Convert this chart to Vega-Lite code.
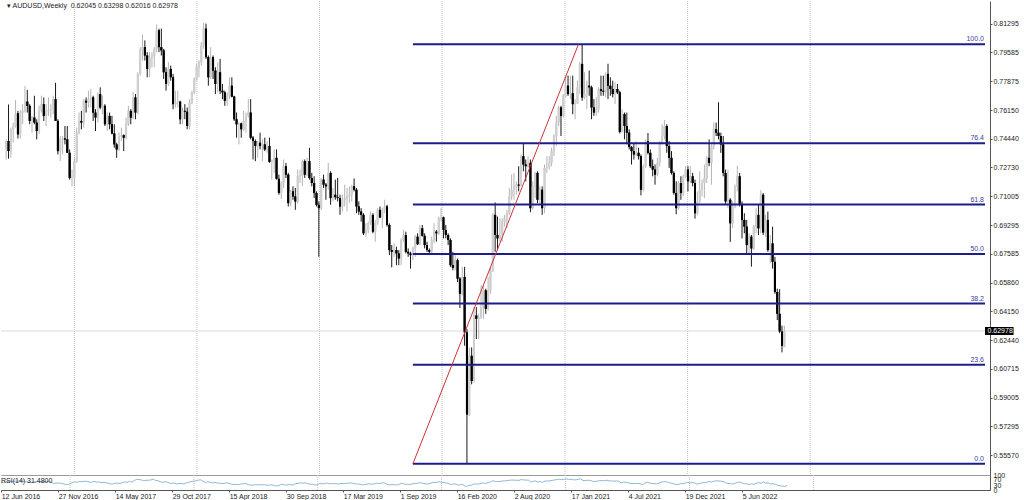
{
"$schema": "https://vega.github.io/schema/vega-lite/v6.json",
"padding": 0,
"background": "white",
"spacing": 0,
"bounds": "flush",
"config": {"view": {"stroke": null}, "font": "Liberation Sans", "axis": {"labelFont": "Liberation Sans", "labelFontSize": 7, "labelColor": "#222222", "labelOverlap": false}},
"datasets": {
"grid": [{"g":"2017-01-01"},{"g":"2018-01-01"},{"g":"2019-01-01"},{"g":"2020-01-01"},{"g":"2021-01-01"},{"g":"2022-01-01"},{"g":"2023-01-01"}],
"fib": [{"level":"0.0","price":0.5506},{"level":"23.6","price":0.60962},{"level":"38.2","price":0.64614},{"level":"50.0","price":0.67565},{"level":"61.8","price":0.70516},{"level":"76.4","price":0.74168},{"level":"100.0","price":0.8007}],
"trend": [{"date":"2019-10-06","price":0.5506},{"date":"2021-02-10","price":0.8007}],
"last": [{"label":"0.62978","price":0.62978}],
"header": [{"text":"\u25be AUDUSD,Weekly\u00a0 0.62045 0.63298 0.62016 0.62978"}],
"rsihead": [{"text":"RSI(14) 31.4800"}],
"bars": [
{"d":"2016-06-12","o":0.7390,"h":0.7440,"l":0.7320,"c":0.7430,"r":48},
{"d":"2016-06-19","o":0.7430,"h":0.7648,"l":0.7325,"c":0.7370,"r":50},
{"d":"2016-06-26","o":0.7370,"h":0.7510,"l":0.7330,"c":0.7500,"r":55},
{"d":"2016-07-03","o":0.7500,"h":0.7540,"l":0.7420,"c":0.7520,"r":56},
{"d":"2016-07-10","o":0.7520,"h":0.7675,"l":0.7510,"c":0.7595,"r":60},
{"d":"2016-07-17","o":0.7595,"h":0.7610,"l":0.7445,"c":0.7470,"r":55},
{"d":"2016-07-24","o":0.7470,"h":0.7615,"l":0.7445,"c":0.7600,"r":58},
{"d":"2016-07-31","o":0.7600,"h":0.7650,"l":0.7530,"c":0.7610,"r":59},
{"d":"2016-08-07","o":0.7610,"h":0.7758,"l":0.7600,"c":0.7665,"r":62},
{"d":"2016-08-14","o":0.7665,"h":0.7735,"l":0.7600,"c":0.7640,"r":60},
{"d":"2016-08-21","o":0.7640,"h":0.7650,"l":0.7530,"c":0.7550,"r":55},
{"d":"2016-08-28","o":0.7550,"h":0.7580,"l":0.7480,"c":0.7570,"r":54},
{"d":"2016-09-04","o":0.7570,"h":0.7700,"l":0.7530,"c":0.7540,"r":53},
{"d":"2016-09-11","o":0.7540,"h":0.7560,"l":0.7440,"c":0.7490,"r":50},
{"d":"2016-09-18","o":0.7490,"h":0.7640,"l":0.7470,"c":0.7610,"r":55},
{"d":"2016-09-25","o":0.7610,"h":0.7700,"l":0.7600,"c":0.7650,"r":57},
{"d":"2016-10-02","o":0.7650,"h":0.7690,"l":0.7550,"c":0.7580,"r":54},
{"d":"2016-10-09","o":0.7580,"h":0.7650,"l":0.7520,"c":0.7610,"r":56},
{"d":"2016-10-16","o":0.7610,"h":0.7690,"l":0.7580,"c":0.7615,"r":56},
{"d":"2016-10-23","o":0.7615,"h":0.7650,"l":0.7570,"c":0.7620,"r":56},
{"d":"2016-10-30","o":0.7620,"h":0.7700,"l":0.7590,"c":0.7680,"r":58},
{"d":"2016-11-06","o":0.7680,"h":0.7777,"l":0.7550,"c":0.7550,"r":52},
{"d":"2016-11-13","o":0.7550,"h":0.7560,"l":0.7350,"c":0.7370,"r":44},
{"d":"2016-11-20","o":0.7370,"h":0.7460,"l":0.7310,"c":0.7440,"r":46},
{"d":"2016-11-27","o":0.7440,"h":0.7460,"l":0.7350,"c":0.7445,"r":46},
{"d":"2016-12-04","o":0.7445,"h":0.7520,"l":0.7410,"c":0.7440,"r":46},
{"d":"2016-12-11","o":0.7440,"h":0.7520,"l":0.7360,"c":0.7360,"r":42},
{"d":"2016-12-18","o":0.7360,"h":0.7380,"l":0.7200,"c":0.7210,"r":37},
{"d":"2016-12-25","o":0.7210,"h":0.7260,"l":0.7160,"c":0.7215,"r":37},
{"d":"2017-01-01","o":0.7215,"h":0.7330,"l":0.7160,"c":0.7310,"r":42},
{"d":"2017-01-08","o":0.7310,"h":0.7510,"l":0.7300,"c":0.7480,"r":50},
{"d":"2017-01-15","o":0.7480,"h":0.7600,"l":0.7470,"c":0.7550,"r":54},
{"d":"2017-01-22","o":0.7550,"h":0.7610,"l":0.7500,"c":0.7540,"r":52},
{"d":"2017-01-29","o":0.7540,"h":0.7680,"l":0.7510,"c":0.7670,"r":57},
{"d":"2017-02-05","o":0.7670,"h":0.7690,"l":0.7600,"c":0.7660,"r":56},
{"d":"2017-02-12","o":0.7660,"h":0.7730,"l":0.7630,"c":0.7680,"r":58},
{"d":"2017-02-19","o":0.7680,"h":0.7740,"l":0.7630,"c":0.7690,"r":58},
{"d":"2017-02-26","o":0.7690,"h":0.7700,"l":0.7550,"c":0.7600,"r":53},
{"d":"2017-03-05","o":0.7600,"h":0.7620,"l":0.7490,"c":0.7570,"r":51},
{"d":"2017-03-12","o":0.7570,"h":0.7720,"l":0.7540,"c":0.7710,"r":58},
{"d":"2017-03-19","o":0.7710,"h":0.7750,"l":0.7620,"c":0.7630,"r":53},
{"d":"2017-03-26","o":0.7630,"h":0.7700,"l":0.7590,"c":0.7640,"r":54},
{"d":"2017-04-02","o":0.7640,"h":0.7650,"l":0.7520,"c":0.7530,"r":49},
{"d":"2017-04-09","o":0.7530,"h":0.7600,"l":0.7490,"c":0.7580,"r":51},
{"d":"2017-04-16","o":0.7580,"h":0.7600,"l":0.7500,"c":0.7530,"r":49},
{"d":"2017-04-23","o":0.7530,"h":0.7580,"l":0.7470,"c":0.7475,"r":45},
{"d":"2017-04-30","o":0.7475,"h":0.7530,"l":0.7390,"c":0.7410,"r":41},
{"d":"2017-05-07","o":0.7410,"h":0.7420,"l":0.7330,"c":0.7380,"r":40},
{"d":"2017-05-14","o":0.7380,"h":0.7480,"l":0.7370,"c":0.7460,"r":45},
{"d":"2017-05-21","o":0.7460,"h":0.7510,"l":0.7430,"c":0.7465,"r":45},
{"d":"2017-05-28","o":0.7465,"h":0.7470,"l":0.7370,"c":0.7450,"r":44},
{"d":"2017-06-04","o":0.7450,"h":0.7570,"l":0.7440,"c":0.7530,"r":49},
{"d":"2017-06-11","o":0.7530,"h":0.7640,"l":0.7520,"c":0.7610,"r":54},
{"d":"2017-06-18","o":0.7610,"h":0.7620,"l":0.7530,"c":0.7570,"r":51},
{"d":"2017-06-25","o":0.7570,"h":0.7720,"l":0.7560,"c":0.7690,"r":58},
{"d":"2017-07-02","o":0.7690,"h":0.7710,"l":0.7560,"c":0.7600,"r":52},
{"d":"2017-07-09","o":0.7600,"h":0.7840,"l":0.7590,"c":0.7830,"r":63},
{"d":"2017-07-16","o":0.7830,"h":0.7990,"l":0.7820,"c":0.7970,"r":70},
{"d":"2017-07-23","o":0.7970,"h":0.8065,"l":0.7910,"c":0.7990,"r":70},
{"d":"2017-07-30","o":0.7990,"h":0.8030,"l":0.7910,"c":0.7940,"r":67},
{"d":"2017-08-06","o":0.7940,"h":0.7960,"l":0.7810,"c":0.7860,"r":61},
{"d":"2017-08-13","o":0.7860,"h":0.7960,"l":0.7810,"c":0.7930,"r":65},
{"d":"2017-08-20","o":0.7930,"h":0.7960,"l":0.7870,"c":0.7940,"r":65},
{"d":"2017-08-27","o":0.7940,"h":0.7990,"l":0.7870,"c":0.7980,"r":67},
{"d":"2017-09-03","o":0.7980,"h":0.8125,"l":0.7960,"c":0.8090,"r":72},
{"d":"2017-09-10","o":0.8090,"h":0.8100,"l":0.7960,"c":0.7990,"r":64},
{"d":"2017-09-17","o":0.7990,"h":0.8100,"l":0.7940,"c":0.7970,"r":62},
{"d":"2017-09-24","o":0.7970,"h":0.7980,"l":0.7800,"c":0.7840,"r":55},
{"d":"2017-10-01","o":0.7840,"h":0.7870,"l":0.7730,"c":0.7770,"r":51},
{"d":"2017-10-08","o":0.7770,"h":0.7900,"l":0.7760,"c":0.7860,"r":56},
{"d":"2017-10-15","o":0.7860,"h":0.7880,"l":0.7790,"c":0.7810,"r":52},
{"d":"2017-10-22","o":0.7810,"h":0.7830,"l":0.7620,"c":0.7650,"r":44},
{"d":"2017-10-29","o":0.7650,"h":0.7730,"l":0.7630,"c":0.7660,"r":45},
{"d":"2017-11-05","o":0.7660,"h":0.7730,"l":0.7630,"c":0.7665,"r":45},
{"d":"2017-11-12","o":0.7665,"h":0.7670,"l":0.7530,"c":0.7560,"r":40},
{"d":"2017-11-19","o":0.7560,"h":0.7630,"l":0.7530,"c":0.7610,"r":44},
{"d":"2017-11-26","o":0.7610,"h":0.7650,"l":0.7560,"c":0.7605,"r":44},
{"d":"2017-12-03","o":0.7605,"h":0.7630,"l":0.7500,"c":0.7520,"r":40},
{"d":"2017-12-10","o":0.7520,"h":0.7680,"l":0.7500,"c":0.7660,"r":48},
{"d":"2017-12-17","o":0.7660,"h":0.7730,"l":0.7650,"c":0.7720,"r":52},
{"d":"2017-12-24","o":0.7720,"h":0.7810,"l":0.7710,"c":0.7800,"r":56},
{"d":"2017-12-31","o":0.7800,"h":0.7890,"l":0.7790,"c":0.7870,"r":59},
{"d":"2018-01-07","o":0.7870,"h":0.7910,"l":0.7810,"c":0.7900,"r":61},
{"d":"2018-01-14","o":0.7900,"h":0.8020,"l":0.7880,"c":0.8000,"r":66},
{"d":"2018-01-21","o":0.8000,"h":0.8136,"l":0.7980,"c":0.8100,"r":68},
{"d":"2018-01-28","o":0.8100,"h":0.8130,"l":0.7920,"c":0.7930,"r":58},
{"d":"2018-02-04","o":0.7930,"h":0.7940,"l":0.7760,"c":0.7810,"r":49},
{"d":"2018-02-11","o":0.7810,"h":0.7990,"l":0.7800,"c":0.7930,"r":55},
{"d":"2018-02-18","o":0.7930,"h":0.7940,"l":0.7800,"c":0.7850,"r":51},
{"d":"2018-02-25","o":0.7850,"h":0.7870,"l":0.7710,"c":0.7770,"r":47},
{"d":"2018-03-04","o":0.7770,"h":0.7900,"l":0.7720,"c":0.7840,"r":52},
{"d":"2018-03-11","o":0.7840,"h":0.7920,"l":0.7710,"c":0.7730,"r":46},
{"d":"2018-03-18","o":0.7730,"h":0.7770,"l":0.7680,"c":0.7720,"r":45},
{"d":"2018-03-25","o":0.7720,"h":0.7730,"l":0.7640,"c":0.7670,"r":42},
{"d":"2018-04-01","o":0.7670,"h":0.7720,"l":0.7640,"c":0.7700,"r":45},
{"d":"2018-04-08","o":0.7700,"h":0.7810,"l":0.7680,"c":0.7760,"r":48},
{"d":"2018-04-15","o":0.7760,"h":0.7810,"l":0.7690,"c":0.7695,"r":44},
{"d":"2018-04-22","o":0.7695,"h":0.7700,"l":0.7550,"c":0.7560,"r":38},
{"d":"2018-04-29","o":0.7560,"h":0.7600,"l":0.7450,"c":0.7530,"r":37},
{"d":"2018-05-06","o":0.7530,"h":0.7540,"l":0.7410,"c":0.7535,"r":37},
{"d":"2018-05-13","o":0.7535,"h":0.7540,"l":0.7450,"c":0.7500,"r":36},
{"d":"2018-05-20","o":0.7500,"h":0.7610,"l":0.7490,"c":0.7550,"r":40},
{"d":"2018-05-27","o":0.7550,"h":0.7600,"l":0.7480,"c":0.7580,"r":42},
{"d":"2018-06-03","o":0.7580,"h":0.7680,"l":0.7570,"c":0.7600,"r":43},
{"d":"2018-06-10","o":0.7600,"h":0.7680,"l":0.7440,"c":0.7450,"r":36},
{"d":"2018-06-17","o":0.7450,"h":0.7460,"l":0.7320,"c":0.7430,"r":33},
{"d":"2018-06-24","o":0.7430,"h":0.7440,"l":0.7310,"c":0.7400,"r":33},
{"d":"2018-07-01","o":0.7400,"h":0.7430,"l":0.7330,"c":0.7420,"r":35},
{"d":"2018-07-08","o":0.7420,"h":0.7480,"l":0.7380,"c":0.7400,"r":35},
{"d":"2018-07-15","o":0.7400,"h":0.7440,"l":0.7310,"c":0.7410,"r":35},
{"d":"2018-07-22","o":0.7410,"h":0.7450,"l":0.7370,"c":0.7380,"r":34},
{"d":"2018-07-29","o":0.7380,"h":0.7430,"l":0.7360,"c":0.7400,"r":36},
{"d":"2018-08-05","o":0.7400,"h":0.7450,"l":0.7300,"c":0.7305,"r":31},
{"d":"2018-08-12","o":0.7305,"h":0.7320,"l":0.7200,"c":0.7310,"r":33},
{"d":"2018-08-19","o":0.7310,"h":0.7380,"l":0.7240,"c":0.7330,"r":34},
{"d":"2018-08-26","o":0.7330,"h":0.7380,"l":0.7200,"c":0.7205,"r":30},
{"d":"2018-09-02","o":0.7205,"h":0.7230,"l":0.7110,"c":0.7120,"r":27},
{"d":"2018-09-09","o":0.7120,"h":0.7190,"l":0.7085,"c":0.7180,"r":30},
{"d":"2018-09-16","o":0.7180,"h":0.7320,"l":0.7150,"c":0.7280,"r":38},
{"d":"2018-09-23","o":0.7280,"h":0.7300,"l":0.7210,"c":0.7230,"r":37},
{"d":"2018-09-30","o":0.7230,"h":0.7240,"l":0.7040,"c":0.7060,"r":32},
{"d":"2018-10-07","o":0.7060,"h":0.7140,"l":0.7040,"c":0.7130,"r":36},
{"d":"2018-10-14","o":0.7130,"h":0.7160,"l":0.7080,"c":0.7100,"r":35},
{"d":"2018-10-21","o":0.7100,"h":0.7150,"l":0.7020,"c":0.7070,"r":34},
{"d":"2018-10-28","o":0.7070,"h":0.7260,"l":0.7060,"c":0.7220,"r":43},
{"d":"2018-11-04","o":0.7220,"h":0.7260,"l":0.7180,"c":0.7225,"r":44},
{"d":"2018-11-11","o":0.7225,"h":0.7320,"l":0.7160,"c":0.7310,"r":48},
{"d":"2018-11-18","o":0.7310,"h":0.7320,"l":0.7210,"c":0.7230,"r":45},
{"d":"2018-11-25","o":0.7230,"h":0.7330,"l":0.7220,"c":0.7310,"r":48},
{"d":"2018-12-02","o":0.7310,"h":0.7390,"l":0.7200,"c":0.7210,"r":42},
{"d":"2018-12-09","o":0.7210,"h":0.7240,"l":0.7160,"c":0.7180,"r":40},
{"d":"2018-12-16","o":0.7180,"h":0.7220,"l":0.7090,"c":0.7120,"r":37},
{"d":"2018-12-23","o":0.7120,"h":0.7130,"l":0.7040,"c":0.7050,"r":34},
{"d":"2018-12-30","o":0.7050,"h":0.7070,"l":0.6740,"c":0.7030,"r":33},
{"d":"2019-01-06","o":0.7030,"h":0.7210,"l":0.7020,"c":0.7200,"r":43},
{"d":"2019-01-13","o":0.7200,"h":0.7230,"l":0.7150,"c":0.7170,"r":42},
{"d":"2019-01-20","o":0.7170,"h":0.7180,"l":0.7080,"c":0.7160,"r":41},
{"d":"2019-01-27","o":0.7160,"h":0.7300,"l":0.7140,"c":0.7240,"r":47},
{"d":"2019-02-03","o":0.7240,"h":0.7250,"l":0.7050,"c":0.7090,"r":41},
{"d":"2019-02-10","o":0.7090,"h":0.7150,"l":0.7070,"c":0.7110,"r":43},
{"d":"2019-02-17","o":0.7110,"h":0.7200,"l":0.7080,"c":0.7095,"r":42},
{"d":"2019-02-24","o":0.7095,"h":0.7210,"l":0.7070,"c":0.7090,"r":42},
{"d":"2019-03-03","o":0.7090,"h":0.7110,"l":0.6990,"c":0.7040,"r":40},
{"d":"2019-03-10","o":0.7040,"h":0.7110,"l":0.7010,"c":0.7080,"r":43},
{"d":"2019-03-17","o":0.7080,"h":0.7170,"l":0.7040,"c":0.7090,"r":43},
{"d":"2019-03-24","o":0.7090,"h":0.7150,"l":0.7010,"c":0.7100,"r":44},
{"d":"2019-03-31","o":0.7100,"h":0.7160,"l":0.7060,"c":0.7110,"r":45},
{"d":"2019-04-07","o":0.7110,"h":0.7170,"l":0.7070,"c":0.7160,"r":47},
{"d":"2019-04-14","o":0.7160,"h":0.7207,"l":0.7130,"c":0.7140,"r":46},
{"d":"2019-04-21","o":0.7140,"h":0.7150,"l":0.7000,"c":0.7040,"r":41},
{"d":"2019-04-28","o":0.7040,"h":0.7070,"l":0.6990,"c":0.7010,"r":40},
{"d":"2019-05-05","o":0.7010,"h":0.7030,"l":0.6950,"c":0.6990,"r":39},
{"d":"2019-05-12","o":0.6990,"h":0.7000,"l":0.6870,"c":0.6880,"r":34},
{"d":"2019-05-19","o":0.6880,"h":0.6940,"l":0.6860,"c":0.6900,"r":36},
{"d":"2019-05-26","o":0.6900,"h":0.6950,"l":0.6880,"c":0.6940,"r":39},
{"d":"2019-06-02","o":0.6940,"h":0.7010,"l":0.6930,"c":0.6990,"r":42},
{"d":"2019-06-09","o":0.6990,"h":0.7000,"l":0.6880,"c":0.6890,"r":38},
{"d":"2019-06-16","o":0.6890,"h":0.6960,"l":0.6830,"c":0.6940,"r":41},
{"d":"2019-06-23","o":0.6940,"h":0.7030,"l":0.6930,"c":0.7020,"r":46},
{"d":"2019-06-30","o":0.7020,"h":0.7040,"l":0.6970,"c":0.6975,"r":43},
{"d":"2019-07-07","o":0.6975,"h":0.7030,"l":0.6910,"c":0.7020,"r":46},
{"d":"2019-07-14","o":0.7020,"h":0.7080,"l":0.7000,"c":0.7040,"r":48},
{"d":"2019-07-21","o":0.7040,"h":0.7050,"l":0.6920,"c":0.6930,"r":42},
{"d":"2019-07-28","o":0.6930,"h":0.6940,"l":0.6750,"c":0.6780,"r":35},
{"d":"2019-08-04","o":0.6780,"h":0.6810,"l":0.6677,"c":0.6770,"r":35},
{"d":"2019-08-11","o":0.6770,"h":0.6820,"l":0.6740,"c":0.6780,"r":36},
{"d":"2019-08-18","o":0.6780,"h":0.6800,"l":0.6690,"c":0.6760,"r":35},
{"d":"2019-08-25","o":0.6760,"h":0.6780,"l":0.6690,"c":0.6730,"r":34},
{"d":"2019-09-01","o":0.6730,"h":0.6850,"l":0.6690,"c":0.6840,"r":42},
{"d":"2019-09-08","o":0.6840,"h":0.6900,"l":0.6830,"c":0.6870,"r":44},
{"d":"2019-09-15","o":0.6870,"h":0.6890,"l":0.6760,"c":0.6770,"r":38},
{"d":"2019-09-22","o":0.6770,"h":0.6790,"l":0.6740,"c":0.6760,"r":38},
{"d":"2019-09-29","o":0.6760,"h":0.6770,"l":0.6670,"c":0.6750,"r":37},
{"d":"2019-10-06","o":0.6750,"h":0.6800,"l":0.6720,"c":0.6790,"r":40},
{"d":"2019-10-13","o":0.6790,"h":0.6870,"l":0.6740,"c":0.6860,"r":45},
{"d":"2019-10-20","o":0.6860,"h":0.6880,"l":0.6810,"c":0.6815,"r":43},
{"d":"2019-10-27","o":0.6815,"h":0.6930,"l":0.6810,"c":0.6910,"r":49},
{"d":"2019-11-03","o":0.6910,"h":0.6930,"l":0.6860,"c":0.6865,"r":46},
{"d":"2019-11-10","o":0.6865,"h":0.6880,"l":0.6790,"c":0.6810,"r":43},
{"d":"2019-11-17","o":0.6810,"h":0.6830,"l":0.6770,"c":0.6780,"r":41},
{"d":"2019-11-24","o":0.6780,"h":0.6790,"l":0.6754,"c":0.6770,"r":41},
{"d":"2019-12-01","o":0.6770,"h":0.6860,"l":0.6760,"c":0.6840,"r":46},
{"d":"2019-12-08","o":0.6840,"h":0.6940,"l":0.6820,"c":0.6890,"r":50},
{"d":"2019-12-15","o":0.6890,"h":0.6900,"l":0.6830,"c":0.6880,"r":49},
{"d":"2019-12-22","o":0.6880,"h":0.6980,"l":0.6870,"c":0.6970,"r":54},
{"d":"2019-12-29","o":0.6970,"h":0.7030,"l":0.6950,"c":0.6975,"r":54},
{"d":"2020-01-05","o":0.6975,"h":0.6980,"l":0.6850,"c":0.6900,"r":50},
{"d":"2020-01-12","o":0.6900,"h":0.6930,"l":0.6850,"c":0.6870,"r":48},
{"d":"2020-01-19","o":0.6870,"h":0.6880,"l":0.6810,"c":0.6840,"r":46},
{"d":"2020-01-26","o":0.6840,"h":0.6850,"l":0.6680,"c":0.6690,"r":38},
{"d":"2020-02-02","o":0.6690,"h":0.6770,"l":0.6660,"c":0.6675,"r":38},
{"d":"2020-02-09","o":0.6675,"h":0.6760,"l":0.6660,"c":0.6720,"r":41},
{"d":"2020-02-16","o":0.6720,"h":0.6730,"l":0.6590,"c":0.6610,"r":36},
{"d":"2020-02-23","o":0.6610,"h":0.6620,"l":0.6434,"c":0.6520,"r":32},
{"d":"2020-03-01","o":0.6520,"h":0.6680,"l":0.6510,"c":0.6620,"r":39},
{"d":"2020-03-08","o":0.6620,"h":0.6680,"l":0.6210,"c":0.6290,"r":30},
{"d":"2020-03-15","o":0.6290,"h":0.6310,"l":0.5506,"c":0.5800,"r":22},
{"d":"2020-03-22","o":0.5800,"h":0.6200,"l":0.5790,"c":0.6150,"r":32},
{"d":"2020-03-29","o":0.6150,"h":0.6200,"l":0.5980,"c":0.6000,"r":31},
{"d":"2020-04-05","o":0.6000,"h":0.6440,"l":0.5990,"c":0.6390,"r":40},
{"d":"2020-04-12","o":0.6390,"h":0.6440,"l":0.6250,"c":0.6370,"r":40},
{"d":"2020-04-19","o":0.6370,"h":0.6400,"l":0.6250,"c":0.6380,"r":40},
{"d":"2020-04-26","o":0.6380,"h":0.6570,"l":0.6370,"c":0.6440,"r":43},
{"d":"2020-05-03","o":0.6440,"h":0.6570,"l":0.6370,"c":0.6540,"r":47},
{"d":"2020-05-10","o":0.6540,"h":0.6550,"l":0.6400,"c":0.6430,"r":44},
{"d":"2020-05-17","o":0.6430,"h":0.6620,"l":0.6420,"c":0.6540,"r":48},
{"d":"2020-05-24","o":0.6540,"h":0.6680,"l":0.6520,"c":0.6660,"r":53},
{"d":"2020-05-31","o":0.6660,"h":0.7000,"l":0.6650,"c":0.6990,"r":62},
{"d":"2020-06-07","o":0.6990,"h":0.7064,"l":0.6770,"c":0.6870,"r":57},
{"d":"2020-06-14","o":0.6870,"h":0.6980,"l":0.6780,"c":0.6850,"r":56},
{"d":"2020-06-21","o":0.6850,"h":0.6970,"l":0.6830,"c":0.6870,"r":57},
{"d":"2020-06-28","o":0.6870,"h":0.6970,"l":0.6830,"c":0.6950,"r":60},
{"d":"2020-07-05","o":0.6950,"h":0.6990,"l":0.6920,"c":0.6970,"r":61},
{"d":"2020-07-12","o":0.6970,"h":0.7020,"l":0.6910,"c":0.7000,"r":62},
{"d":"2020-07-19","o":0.7000,"h":0.7150,"l":0.6990,"c":0.7100,"r":65},
{"d":"2020-07-26","o":0.7100,"h":0.7230,"l":0.7080,"c":0.7140,"r":66},
{"d":"2020-08-02","o":0.7140,"h":0.7240,"l":0.7080,"c":0.7160,"r":66},
{"d":"2020-08-09","o":0.7160,"h":0.7190,"l":0.7110,"c":0.7170,"r":65},
{"d":"2020-08-16","o":0.7170,"h":0.7280,"l":0.7130,"c":0.7165,"r":64},
{"d":"2020-08-23","o":0.7165,"h":0.7350,"l":0.7160,"c":0.7340,"r":70},
{"d":"2020-08-30","o":0.7340,"h":0.7413,"l":0.7250,"c":0.7290,"r":67},
{"d":"2020-09-06","o":0.7290,"h":0.7320,"l":0.7190,"c":0.7280,"r":66},
{"d":"2020-09-13","o":0.7280,"h":0.7340,"l":0.7270,"c":0.7300,"r":66},
{"d":"2020-09-20","o":0.7300,"h":0.7320,"l":0.7006,"c":0.7030,"r":53},
{"d":"2020-09-27","o":0.7030,"h":0.7190,"l":0.7020,"c":0.7160,"r":58},
{"d":"2020-10-04","o":0.7160,"h":0.7245,"l":0.7090,"c":0.7240,"r":61},
{"d":"2020-10-11","o":0.7240,"h":0.7250,"l":0.7060,"c":0.7080,"r":53},
{"d":"2020-10-18","o":0.7080,"h":0.7160,"l":0.7050,"c":0.7140,"r":56},
{"d":"2020-10-25","o":0.7140,"h":0.7160,"l":0.6990,"c":0.7030,"r":52},
{"d":"2020-11-01","o":0.7030,"h":0.7290,"l":0.7000,"c":0.7270,"r":60},
{"d":"2020-11-08","o":0.7270,"h":0.7340,"l":0.7240,"c":0.7275,"r":60},
{"d":"2020-11-15","o":0.7275,"h":0.7340,"l":0.7260,"c":0.7300,"r":61},
{"d":"2020-11-22","o":0.7300,"h":0.7390,"l":0.7280,"c":0.7370,"r":64},
{"d":"2020-11-29","o":0.7370,"h":0.7470,"l":0.7340,"c":0.7460,"r":67},
{"d":"2020-12-06","o":0.7460,"h":0.7580,"l":0.7400,"c":0.7540,"r":69},
{"d":"2020-12-13","o":0.7540,"h":0.7640,"l":0.7520,"c":0.7630,"r":72},
{"d":"2020-12-20","o":0.7630,"h":0.7640,"l":0.7460,"c":0.7580,"r":69},
{"d":"2020-12-27","o":0.7580,"h":0.7710,"l":0.7570,"c":0.7700,"r":72},
{"d":"2021-01-03","o":0.7700,"h":0.7820,"l":0.7690,"c":0.7760,"r":73},
{"d":"2021-01-10","o":0.7760,"h":0.7820,"l":0.7700,"c":0.7710,"r":71},
{"d":"2021-01-17","o":0.7710,"h":0.7820,"l":0.7680,"c":0.7715,"r":71},
{"d":"2021-01-24","o":0.7715,"h":0.7820,"l":0.7590,"c":0.7650,"r":68},
{"d":"2021-01-31","o":0.7650,"h":0.7680,"l":0.7560,"c":0.7655,"r":68},
{"d":"2021-02-07","o":0.7655,"h":0.7790,"l":0.7650,"c":0.7750,"r":71},
{"d":"2021-02-14","o":0.7750,"h":0.7900,"l":0.7710,"c":0.7890,"r":74},
{"d":"2021-02-21","o":0.7890,"h":0.8007,"l":0.7670,"c":0.7690,"r":63},
{"d":"2021-02-28","o":0.7690,"h":0.7840,"l":0.7680,"c":0.7710,"r":63},
{"d":"2021-03-07","o":0.7710,"h":0.7790,"l":0.7620,"c":0.7760,"r":65},
{"d":"2021-03-14","o":0.7760,"h":0.7850,"l":0.7700,"c":0.7750,"r":64},
{"d":"2021-03-21","o":0.7750,"h":0.7760,"l":0.7560,"c":0.7630,"r":58},
{"d":"2021-03-28","o":0.7630,"h":0.7680,"l":0.7580,"c":0.7600,"r":57},
{"d":"2021-04-04","o":0.7600,"h":0.7690,"l":0.7580,"c":0.7620,"r":58},
{"d":"2021-04-11","o":0.7620,"h":0.7750,"l":0.7600,"c":0.7740,"r":63},
{"d":"2021-04-18","o":0.7740,"h":0.7820,"l":0.7700,"c":0.7730,"r":62},
{"d":"2021-04-25","o":0.7730,"h":0.7820,"l":0.7700,"c":0.7725,"r":62},
{"d":"2021-05-02","o":0.7725,"h":0.7840,"l":0.7690,"c":0.7830,"r":65},
{"d":"2021-05-09","o":0.7830,"h":0.7891,"l":0.7680,"c":0.7760,"r":61},
{"d":"2021-05-16","o":0.7760,"h":0.7810,"l":0.7700,"c":0.7740,"r":60},
{"d":"2021-05-23","o":0.7740,"h":0.7790,"l":0.7690,"c":0.7710,"r":59},
{"d":"2021-05-30","o":0.7710,"h":0.7780,"l":0.7650,"c":0.7740,"r":60},
{"d":"2021-06-06","o":0.7740,"h":0.7770,"l":0.7710,"c":0.7720,"r":59},
{"d":"2021-06-13","o":0.7720,"h":0.7730,"l":0.7475,"c":0.7485,"r":47},
{"d":"2021-06-20","o":0.7485,"h":0.7620,"l":0.7480,"c":0.7590,"r":53},
{"d":"2021-06-27","o":0.7590,"h":0.7600,"l":0.7440,"c":0.7520,"r":50},
{"d":"2021-07-04","o":0.7520,"h":0.7600,"l":0.7410,"c":0.7480,"r":48},
{"d":"2021-07-11","o":0.7480,"h":0.7500,"l":0.7380,"c":0.7395,"r":44},
{"d":"2021-07-18","o":0.7395,"h":0.7400,"l":0.7290,"c":0.7370,"r":43},
{"d":"2021-07-25","o":0.7370,"h":0.7420,"l":0.7320,"c":0.7350,"r":43},
{"d":"2021-08-01","o":0.7350,"h":0.7430,"l":0.7340,"c":0.7360,"r":44},
{"d":"2021-08-08","o":0.7360,"h":0.7390,"l":0.7320,"c":0.7340,"r":43},
{"d":"2021-08-15","o":0.7340,"h":0.7350,"l":0.7106,"c":0.7140,"r":35},
{"d":"2021-08-22","o":0.7140,"h":0.7290,"l":0.7130,"c":0.7280,"r":44},
{"d":"2021-08-29","o":0.7280,"h":0.7440,"l":0.7270,"c":0.7430,"r":52},
{"d":"2021-09-05","o":0.7430,"h":0.7478,"l":0.7350,"c":0.7360,"r":47},
{"d":"2021-09-12","o":0.7360,"h":0.7380,"l":0.7270,"c":0.7280,"r":43},
{"d":"2021-09-19","o":0.7280,"h":0.7320,"l":0.7220,"c":0.7260,"r":42},
{"d":"2021-09-26","o":0.7260,"h":0.7290,"l":0.7170,"c":0.7230,"r":41},
{"d":"2021-10-03","o":0.7230,"h":0.7330,"l":0.7220,"c":0.7300,"r":46},
{"d":"2021-10-10","o":0.7300,"h":0.7430,"l":0.7280,"c":0.7420,"r":53},
{"d":"2021-10-17","o":0.7420,"h":0.7530,"l":0.7410,"c":0.7460,"r":55},
{"d":"2021-10-24","o":0.7460,"h":0.7556,"l":0.7440,"c":0.7520,"r":56},
{"d":"2021-10-31","o":0.7520,"h":0.7530,"l":0.7360,"c":0.7400,"r":49},
{"d":"2021-11-07","o":0.7400,"h":0.7430,"l":0.7270,"c":0.7330,"r":46},
{"d":"2021-11-14","o":0.7330,"h":0.7370,"l":0.7230,"c":0.7240,"r":42},
{"d":"2021-11-21","o":0.7240,"h":0.7250,"l":0.7110,"c":0.7120,"r":37},
{"d":"2021-11-28","o":0.7120,"h":0.7190,"l":0.6993,"c":0.7030,"r":35},
{"d":"2021-12-05","o":0.7030,"h":0.7190,"l":0.7020,"c":0.7180,"r":44},
{"d":"2021-12-12","o":0.7180,"h":0.7220,"l":0.7080,"c":0.7120,"r":41},
{"d":"2021-12-19","o":0.7120,"h":0.7230,"l":0.7100,"c":0.7220,"r":47},
{"d":"2021-12-26","o":0.7220,"h":0.7280,"l":0.7210,"c":0.7260,"r":50},
{"d":"2022-01-02","o":0.7260,"h":0.7280,"l":0.7130,"c":0.7190,"r":47},
{"d":"2022-01-09","o":0.7190,"h":0.7280,"l":0.7180,"c":0.7220,"r":49},
{"d":"2022-01-16","o":0.7220,"h":0.7240,"l":0.7160,"c":0.7180,"r":47},
{"d":"2022-01-23","o":0.7180,"h":0.7200,"l":0.6967,"c":0.7000,"r":39},
{"d":"2022-01-30","o":0.7000,"h":0.7130,"l":0.6990,"c":0.7070,"r":43},
{"d":"2022-02-06","o":0.7070,"h":0.7250,"l":0.7060,"c":0.7140,"r":47},
{"d":"2022-02-13","o":0.7140,"h":0.7200,"l":0.7100,"c":0.7180,"r":50},
{"d":"2022-02-20","o":0.7180,"h":0.7290,"l":0.7090,"c":0.7210,"r":51},
{"d":"2022-02-27","o":0.7210,"h":0.7340,"l":0.7180,"c":0.7330,"r":56},
{"d":"2022-03-06","o":0.7330,"h":0.7440,"l":0.7280,"c":0.7300,"r":54},
{"d":"2022-03-13","o":0.7300,"h":0.7410,"l":0.7170,"c":0.7400,"r":58},
{"d":"2022-03-20","o":0.7400,"h":0.7540,"l":0.7380,"c":0.7500,"r":61},
{"d":"2022-03-27","o":0.7500,"h":0.7540,"l":0.7460,"c":0.7480,"r":60},
{"d":"2022-04-03","o":0.7480,"h":0.7661,"l":0.7440,"c":0.7460,"r":59},
{"d":"2022-04-10","o":0.7460,"h":0.7480,"l":0.7360,"c":0.7410,"r":56},
{"d":"2022-04-17","o":0.7410,"h":0.7460,"l":0.7220,"c":0.7240,"r":50},
{"d":"2022-04-24","o":0.7240,"h":0.7260,"l":0.7050,"c":0.7070,"r":43},
{"d":"2022-05-01","o":0.7070,"h":0.7260,"l":0.7030,"c":0.7080,"r":44},
{"d":"2022-05-08","o":0.7080,"h":0.7090,"l":0.6829,"c":0.6940,"r":39},
{"d":"2022-05-15","o":0.6940,"h":0.7070,"l":0.6910,"c":0.7040,"r":45},
{"d":"2022-05-22","o":0.7040,"h":0.7170,"l":0.7030,"c":0.7160,"r":50},
{"d":"2022-05-29","o":0.7160,"h":0.7283,"l":0.7130,"c":0.7220,"r":53},
{"d":"2022-06-05","o":0.7220,"h":0.7240,"l":0.7040,"c":0.7050,"r":46},
{"d":"2022-06-12","o":0.7050,"h":0.7070,"l":0.6850,"c":0.6960,"r":42},
{"d":"2022-06-19","o":0.6960,"h":0.7000,"l":0.6880,"c":0.6920,"r":41},
{"d":"2022-06-26","o":0.6920,"h":0.6960,"l":0.6760,"c":0.6810,"r":37},
{"d":"2022-07-03","o":0.6810,"h":0.6880,"l":0.6760,"c":0.6860,"r":41},
{"d":"2022-07-10","o":0.6860,"h":0.6870,"l":0.6681,"c":0.6790,"r":38},
{"d":"2022-07-17","o":0.6790,"h":0.6930,"l":0.6780,"c":0.6920,"r":46},
{"d":"2022-07-24","o":0.6920,"h":0.7030,"l":0.6880,"c":0.6990,"r":49},
{"d":"2022-07-31","o":0.6990,"h":0.7050,"l":0.6870,"c":0.6910,"r":45},
{"d":"2022-08-07","o":0.6910,"h":0.7137,"l":0.6880,"c":0.7110,"r":54},
{"d":"2022-08-14","o":0.7110,"h":0.7120,"l":0.6870,"c":0.6885,"r":45},
{"d":"2022-08-21","o":0.6885,"h":0.6990,"l":0.6860,"c":0.6960,"r":48},
{"d":"2022-08-28","o":0.6960,"h":0.7010,"l":0.6770,"c":0.6780,"r":40},
{"d":"2022-09-04","o":0.6780,"h":0.6870,"l":0.6700,"c":0.6820,"r":42},
{"d":"2022-09-11","o":0.6820,"h":0.6920,"l":0.6670,"c":0.6710,"r":38},
{"d":"2022-09-18","o":0.6710,"h":0.6740,"l":0.6520,"c":0.6530,"r":31},
{"d":"2022-09-25","o":0.6530,"h":0.6550,"l":0.6363,"c":0.6400,"r":27},
{"d":"2022-10-02","o":0.6400,"h":0.6547,"l":0.6285,"c":0.6295,"r":26},
{"d":"2022-10-09","o":0.6295,"h":0.6330,"l":0.6170,"c":0.6210,"r":24},
{"d":"2022-10-16","o":0.62045,"h":0.63298,"l":0.62016,"c":0.62978,"r":31.48}
]
},
"vconcat": [
{
"width": 989,
"height": 474,
"layer": [
{
"data": {"name": "bars"},
"mark": {"type": "bar", "width": 2, "clip": true},
"encoding": {
"x": {"field": "d", "type": "temporal", "title": null, "scale": {"type": "utc", "domain": [{"year": 2016, "month": 6, "date": 11, "hours": 12, "utc": true}, {"year": 2024, "month": 6, "date": 4, "hours": 12, "utc": true}], "nice": false}, "axis": {"labels": false, "ticks": false, "grid": false, "domain": true, "domainColor": "#9a9a9a", "title": null}},
"y": {"field": "o", "type": "quantitative", "title": null, "scale": {"domain": [0.54395, 0.82648], "nice": false, "zero": false}, "axis": {"orient": "right", "values": [0.81295, 0.79585, 0.77875, 0.7615, 0.7444, 0.7273, 0.71005, 0.69295, 0.67585, 0.6586, 0.6415, 0.6244, 0.60715, 0.59005, 0.57295, 0.5557], "tickCount": 40, "format": ".5f", "labelFontSize": 7, "tickSize": 2, "labelPadding": 1, "domainColor": "#555555", "tickColor": "#555555", "grid": false, "title": null, "labelOverlap": false, "labelAlign": "left"}},
"y2": {"field": "c"},
"color": {"condition": {"test": "datum.c >= datum.o", "value": "#cfcfcf"}, "value": "#000000"}
}
},
{
"data": {"name": "grid"},
"mark": {"type": "rule", "color": "#c4c4c4", "strokeDash": [1, 1], "strokeWidth": 1},
"encoding": {"x": {"field": "g", "type": "temporal", "title": null}}
},
{
"data": {"name": "last"},
"mark": {"type": "rule", "color": "#dadada", "strokeWidth": 1},
"encoding": {"y": {"field": "price", "type": "quantitative", "title": null}}
},
{
"data": {"name": "bars"},
"mark": {"type": "rule", "strokeWidth": 1, "clip": true},
"encoding": {
"x": {"field": "d", "type": "temporal", "title": null},
"y": {"field": "l", "type": "quantitative", "title": null},
"y2": {"field": "h"},
"color": {"condition": {"test": "datum.c >= datum.o", "value": "#b4b4b4"}, "value": "#1a1a1a"}
}
},
{
"data": {"name": "bars"},
"mark": {"type": "bar", "width": 2, "clip": true},
"encoding": {
"x": {"field": "d", "type": "temporal", "title": null},
"y": {"field": "o", "type": "quantitative", "title": null},
"y2": {"field": "c"},
"color": {"condition": {"test": "datum.c >= datum.o", "value": "#cfcfcf"}, "value": "#000000"}
}
},
{
"data": {"name": "fib"},
"mark": {"type": "rule", "color": "#1c1c8c", "strokeWidth": 2},
"encoding": {
"x": {"datum": {"year": 2019, "month": 10, "date": 6, "utc": true}, "type": "temporal"},
"x2": {"datum": {"year": 2024, "month": 6, "date": 4, "hours": 12, "utc": true}},
"y": {"field": "price", "type": "quantitative", "title": null}
}
},
{
"data": {"name": "fib"},
"mark": {"type": "text", "align": "right", "baseline": "bottom", "dy": -2, "dx": -1, "fontSize": 7, "font": "Liberation Sans", "color": "#3c3ca0"},
"encoding": {
"x": {"datum": {"year": 2024, "month": 6, "date": 4, "hours": 12, "utc": true}, "type": "temporal"},
"y": {"field": "price", "type": "quantitative", "title": null},
"text": {"field": "level"}
}
},
{
"data": {"name": "trend"},
"mark": {"type": "line", "color": "#cc3333", "strokeWidth": 1},
"encoding": {
"x": {"field": "date", "type": "temporal", "title": null},
"y": {"field": "price", "type": "quantitative", "title": null}
}
},
{
"data": {"name": "last"},
"mark": {"type": "rect", "color": "#000000"},
"encoding": {
"x": {"datum": {"year": 2024, "month": 6, "date": 4, "hours": 12, "utc": true}, "type": "temporal"},
"x2": {"datum": {"year": 2024, "month": 8, "date": 28, "hours": 12, "utc": true}},
"y": {"datum": 0.63216, "type": "quantitative"},
"y2": {"datum": 0.6274}
}
},
{
"data": {"name": "last"},
"mark": {"type": "text", "align": "left", "baseline": "middle", "dx": 2.5, "fontSize": 7, "font": "Liberation Sans", "color": "#ffffff"},
"encoding": {
"x": {"datum": {"year": 2024, "month": 6, "date": 4, "hours": 12, "utc": true}, "type": "temporal"},
"y": {"field": "price", "type": "quantitative", "title": null},
"text": {"field": "label"}
}
},
{
"data": {"name": "header"},
"mark": {"type": "text", "align": "left", "baseline": "top", "dx": 1, "dy": 1, "fontSize": 7, "font": "Liberation Sans", "color": "#1a1a1a"},
"encoding": {
"x": {"datum": {"year": 2016, "month": 6, "date": 11, "hours": 12, "utc": true}, "type": "temporal"},
"y": {"datum": 0.82648, "type": "quantitative"},
"text": {"field": "text"}
}
}
]
},
{
"width": 989,
"height": 15,
"layer": [
{
"data": {"name": "grid"},
"mark": {"type": "rule", "color": "#c4c4c4", "strokeDash": [1, 1], "strokeWidth": 1},
"encoding": {"x": {"field": "g", "type": "temporal", "title": null, "scale": {"type": "utc", "domain": [{"year": 2016, "month": 6, "date": 11, "hours": 12, "utc": true}, {"year": 2024, "month": 6, "date": 4, "hours": 12, "utc": true}], "nice": false}, "axis": {"values": [{"year": 2016, "month": 6, "date": 12, "utc": true}, {"year": 2016, "month": 11, "date": 27, "utc": true}, {"year": 2017, "month": 5, "date": 14, "utc": true}, {"year": 2017, "month": 10, "date": 29, "utc": true}, {"year": 2018, "month": 4, "date": 15, "utc": true}, {"year": 2018, "month": 9, "date": 30, "utc": true}, {"year": 2019, "month": 3, "date": 17, "utc": true}, {"year": 2019, "month": 9, "date": 1, "utc": true}, {"year": 2020, "month": 2, "date": 16, "utc": true}, {"year": 2020, "month": 8, "date": 2, "utc": true}, {"year": 2021, "month": 1, "date": 17, "utc": true}, {"year": 2021, "month": 7, "date": 4, "utc": true}, {"year": 2021, "month": 12, "date": 19, "utc": true}, {"year": 2022, "month": 6, "date": 5, "utc": true}], "tickCount": 40, "format": "%-d %b %Y", "labelAlign": "left", "labelFontSize": 7, "tickSize": 2, "labelPadding": 0.5, "domainColor": "#555555", "tickColor": "#555555", "grid": false, "title": null, "labelOverlap": false, "labelFlush": false}}}
},
{
"data": {"name": "bars"},
"mark": {"type": "line", "color": "#8fb8d6", "strokeWidth": 1, "clip": true},
"encoding": {
"x": {"field": "d", "type": "temporal", "title": null},
"y": {"field": "r", "type": "quantitative", "title": null, "scale": {"domain": [0, 100], "nice": false, "zero": false}, "axis": {"orient": "right", "values": [100, 70, 30, 0], "tickCount": 10, "labelFontSize": 7, "tickSize": 0, "labelPadding": 3, "domainColor": "#555555", "grid": false, "title": null, "labelOverlap": false, "labelAlign": "left", "labelFlush": false}}
}
},
{
"data": {"name": "rsihead"},
"mark": {"type": "text", "align": "left", "baseline": "top", "dx": 0, "dy": 2, "fontSize": 7, "font": "Liberation Sans", "color": "#1a1a1a"},
"encoding": {
"x": {"datum": {"year": 2016, "month": 6, "date": 11, "hours": 12, "utc": true}, "type": "temporal"},
"y": {"datum": 100, "type": "quantitative"},
"text": {"field": "text"}
}
}
]
}
]
}
